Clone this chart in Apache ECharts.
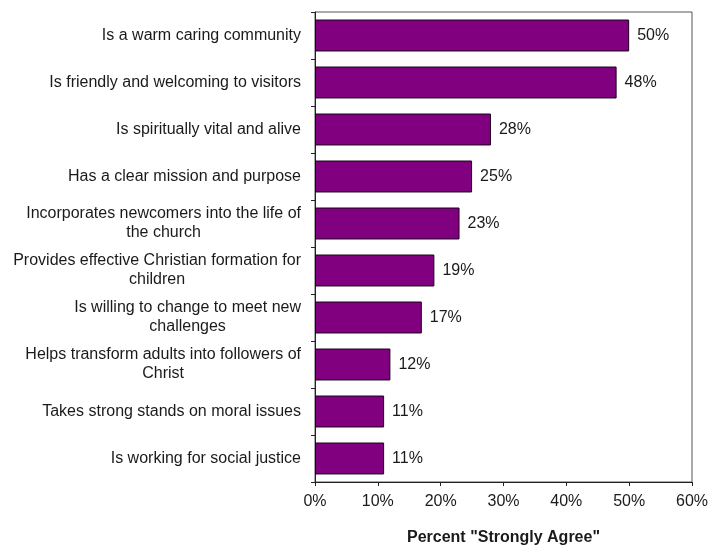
<!DOCTYPE html>
<html>
<head>
<meta charset="utf-8">
<script src="https://cdn.jsdelivr.net/npm/echarts@6/dist/echarts.min.js"></script>
<style>
  html, body { margin: 0; padding: 0; background: #fff; }
  #chart { width: 708px; height: 548px; }
</style>
</head>
<body>
<div id="chart"></div>
<script>
// Survey statements, top to bottom
const statements = [
  'Is a warm caring community',
  'Is friendly and welcoming to visitors',
  'Is spiritually vital and alive',
  'Has a clear mission and purpose',
  'Incorporates newcomers into the life of\nthe church',
  'Provides effective Christian formation for\nchildren',
  'Is willing to change to meet new\nchallenges',
  'Helps transform adults into followers of\nChrist',
  'Takes strong stands on moral issues',
  'Is working for social justice'
];

// Percent answering "Strongly Agree"
const stronglyAgree = [50, 48, 28, 25, 23, 19, 17, 12, 11, 11];

// Percentage axis
const axisMin = 0;
const axisMax = 60;
const axisStep = 10;

const FONT = '"Liberation Sans", Arial, sans-serif';
const TEXT = '#1a1a1a';

const chart = echarts.init(document.getElementById('chart'), null, { renderer: 'canvas' });

chart.setOption({
  animation: false,
  backgroundColor: '#ffffff',
  grid: {
    left: 315, right: 16, top: 12, bottom: 66,
    outerBoundsMode: 'none',
    containLabel: false,
    show: true, borderColor: '#555555', borderWidth: 1
  },
  xAxis: {
    type: 'value',
    min: axisMin, max: axisMax, interval: axisStep,
    name: 'Percent "Strongly Agree"',
    nameLocation: 'middle',
    nameGap: 48,
    nameTextStyle: { fontFamily: FONT, fontSize: 16, fontWeight: 'bold', color: TEXT },
    axisLine: { show: true, lineStyle: { color: '#222', width: 1 } },
    axisTick: { show: true, inside: false, length: 4, lineStyle: { color: '#222' } },
    axisLabel: {
      fontFamily: FONT, fontSize: 16, color: TEXT, margin: 12,
      formatter: v => v + '%'
    },
    splitLine: { show: false }
  },
  yAxis: {
    type: 'category',
    data: statements,
    inverse: true,
    axisLine: { show: true, lineStyle: { color: '#222', width: 1 } },
    axisTick: { show: true, inside: false, length: 4, alignWithLabel: false, lineStyle: { color: '#222' } },
    axisLabel: {
      margin: 14,
      align: 'right',
      formatter: v => v.split('\n').map(line => '{c|' + line + '}').join('\n'),
      rich: {
        c: { align: 'center', fontFamily: FONT, fontSize: 16, color: TEXT, lineHeight: 19 }
      }
    },
    splitLine: { show: false }
  },
  series: [{
    type: 'bar',
    data: stronglyAgree,
    barCategoryGap: '32%',
    itemStyle: { color: '#800080', borderColor: '#1a001a', borderWidth: 1 },
    label: {
      show: true,
      position: 'right',
      distance: 8,
      fontFamily: FONT, fontSize: 16, color: TEXT,
      formatter: p => p.value + '%'
    }
  }]
});
</script>
</body>
</html>
